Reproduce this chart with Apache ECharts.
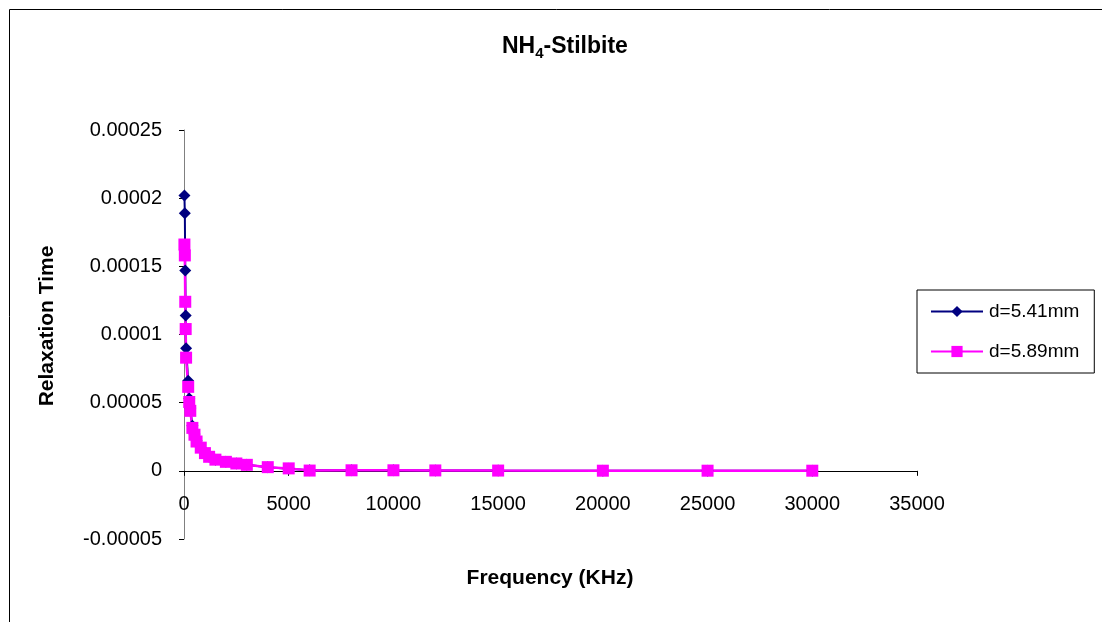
<!DOCTYPE html>
<html>
<head>
<meta charset="utf-8">
<script src="https://cdn.jsdelivr.net/npm/echarts@6/dist/echarts.min.js"></script>
<style>
html,body{margin:0;padding:0;background:#fff;}
#chart{width:1102px;height:622px;}
</style>
</head>
<body>
<div id="chart"></div>
<script>
// Frequency (KHz)
var frequencies = [20, 40, 60, 80, 100, 200, 250, 300, 400, 500, 600, 800, 1000, 1200, 1500, 2000, 2500, 3000, 4000, 5000, 6000, 8000, 10000, 12000, 15000, 20000, 25000, 30000];
// Relaxation time, d = 5.41 mm
var tau541 = [0.000202, 0.000189, 0.000147, 0.000114, 0.000090, 0.000066, 0.000053, 0.000046, 0.000033, 0.000027, 0.000022, 0.0000172, 0.0000132, 0.0000104, 0.0000082, 0.0000066, 0.0000054, 0.0000044, 0.0000026, 0.0000016, 0.0000004, 0.0000004, 0.0000004, 0.0000003, 0.0000002, 0.0000001, 0.0000001, 0.0000001];
// Relaxation time, d = 5.89 mm
var tau589 = [0.000166, 0.000158, 0.000124, 0.000104, 0.000083, 0.0000616, 0.0000505, 0.000044, 0.0000315, 0.0000265, 0.0000215, 0.000017, 0.000013, 0.0000103, 0.0000082, 0.0000066, 0.0000054, 0.0000044, 0.0000027, 0.0000018, 0.0000002, 0.0000004, 0.0000004, 0.0000003, 0.0000002, 0.0000001, 0.0000001, 0.0000001];
var seriesNames = ['d=5.41mm', 'd=5.89mm'];
var xTicks = {min: 0, max: 35000, interval: 5000};
var yTicks = {min: -0.00005, max: 0.00025, interval: 0.00005};

function pairs(xs, ys) { return xs.map(function (x, i) { return [x, ys[i]]; }); }

var FONT = 'Liberation Sans, Arial, sans-serif';
var GRID = {left: 184, top: 130, width: 733, height: 409};
// shift the x axis (line, ticks, labels) up to the y = 0 position
var zeroOffset = -GRID.height * (0 - yTicks.min) / (yTicks.max - yTicks.min);

var chart = echarts.init(document.getElementById('chart'), null, {renderer: 'canvas'});
chart.setOption({
  backgroundColor: '#ffffff',
  animation: false,
  title: {
    text: '{b|NH}{s|4}{b|-Stilbite}',
    left: 502,
    top: 33,
    padding: 0,
    textStyle: {
      rich: {
        b: {fontFamily: FONT, fontWeight: 'bold', fontSize: 23, color: '#000', lineHeight: 28, verticalAlign: 'middle'},
        s: {fontFamily: FONT, fontWeight: 'bold', fontSize: 15, color: '#000', lineHeight: 15, verticalAlign: 'bottom'}
      }
    }
  },
  graphic: [{
    type: 'rect',
    shape: {x: 9.5, y: 9.5, width: 1300, height: 800},
    style: {fill: 'none', stroke: '#000', lineWidth: 1},
    silent: true
  }, {
    type: 'text',
    x: 47,
    y: 326,
    rotation: Math.PI / 2,
    style: {
      text: 'Relaxation Time',
      fontFamily: FONT, fontWeight: 'bold', fontSize: 21, fill: '#000',
      align: 'center', verticalAlign: 'middle'
    },
    silent: true
  }, {
    type: 'text',
    x: 550,
    y: 578,
    style: {
      text: 'Frequency (KHz)',
      fontFamily: FONT, fontWeight: 'bold', fontSize: 21, fill: '#000',
      align: 'center', verticalAlign: 'middle'
    },
    silent: true
  }],
  legend: {
    left: 917,
    top: 290,
    orient: 'vertical',
    padding: [12, 15, 12, 13],
    itemGap: 21,
    itemWidth: 52,
    itemHeight: 14,
    borderColor: '#000',
    borderWidth: 1,
    textStyle: {fontFamily: FONT, fontSize: 19, color: '#000', padding: [0, 0, 0, 1]},
    data: seriesNames
  },
  grid: {left: GRID.left, top: GRID.top, width: GRID.width, height: GRID.height, containLabel: false},
  xAxis: {
    type: 'value',
    position: 'bottom',
    offset: zeroOffset,
    min: xTicks.min, max: xTicks.max, interval: xTicks.interval,
    axisLine: {onZero: false, lineStyle: {color: '#000', width: 1}},
    axisTick: {show: true, inside: false, length: 5, lineStyle: {color: '#000'}},
    axisLabel: {margin: 24, fontFamily: FONT, fontSize: 20, color: '#000', formatter: function (v) { return String(v); }},
    splitLine: {show: false}
  },
  yAxis: {
    type: 'value',
    min: yTicks.min, max: yTicks.max, interval: yTicks.interval,
    axisLine: {show: true, onZero: false, lineStyle: {color: '#808080', width: 1}},
    axisTick: {show: true, inside: false, length: 5, lineStyle: {color: '#000'}},
    axisLabel: {
      margin: 22, fontFamily: FONT, fontSize: 20, color: '#000',
      formatter: function (v) {
        var n = Math.round(v * 1e5);
        if (n === 0) return '0';
        return (n / 1e5).toFixed(5).replace(/0+$/, '');
      }
    },
    splitLine: {show: false}
  },
  series: [{
    name: seriesNames[0],
    type: 'line',
    data: pairs(frequencies, tau541),
    symbol: 'diamond',
    symbolSize: 12,
    showAllSymbol: true,
    itemStyle: {color: '#000080'},
    lineStyle: {color: '#000080', width: 2}
  }, {
    name: seriesNames[1],
    type: 'line',
    data: pairs(frequencies, tau589),
    symbol: 'rect',
    symbolSize: 12,
    showAllSymbol: true,
    itemStyle: {color: '#ff00ff'},
    lineStyle: {color: '#ff00ff', width: 2.5}
  }]
});
</script>
</body>
</html>
